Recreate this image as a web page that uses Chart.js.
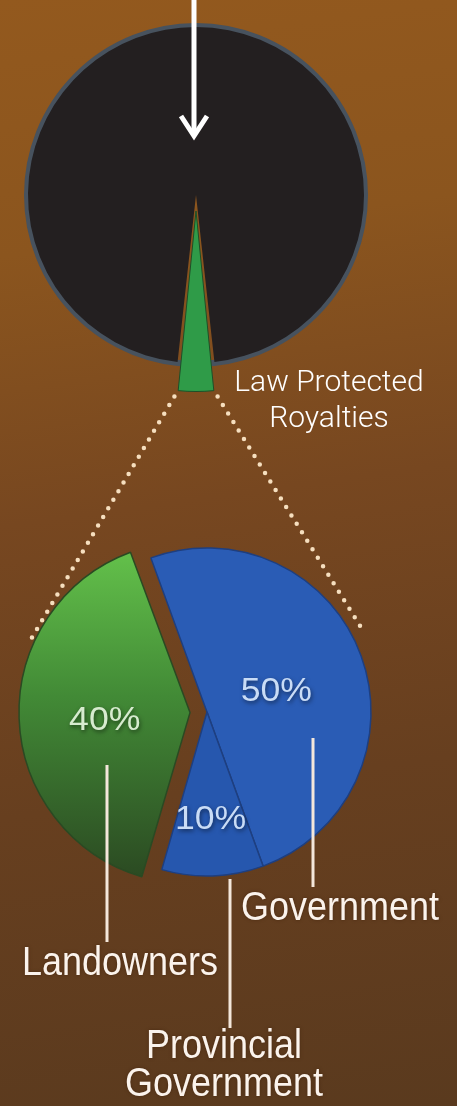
<!DOCTYPE html>
<html>
<head>
<meta charset="utf-8">
<script src="https://cdn.jsdelivr.net/npm/chart.js@4.4.0/dist/chart.umd.min.js"></script>
<style>
  html, body { margin: 0; padding: 0; }
  body {
    width: 457px; height: 1106px; overflow: hidden; position: relative;
    background: linear-gradient(172deg, #93591e 0%, #8b551e 22%, #774720 45%, #673f1f 70%, #5a3a1e 100%);
  }
  canvas { position: absolute; left: 0; top: 0; }
  .lbl { position: absolute; color: #fbf3ec; white-space: nowrap; z-index: 5; }
  .thin { font-family: Roboto, sans-serif; font-weight: 300; font-size: 30px; line-height: 36px; text-align: center; color: #fff; }
  .big {
    font-family: "Liberation Sans", Arial, sans-serif; font-size: 36px; line-height: 33px; text-align: center;
    transform: scaleY(1.15); transform-origin: top center;
    text-shadow: 0 0 3px rgba(60, 30, 10, 0.6);
  }
</style>
</head>
<body>
<canvas id="topPie" width="457" height="1106"></canvas>
<canvas id="splitPie" width="457" height="1106"></canvas>

<div class="lbl thin" style="left:219px; top:363px; width:220px;">Law Protected<br>Royalties</div>
<div class="lbl big" style="left:220px; top:887px; width:240px;">Government</div>
<div class="lbl big" style="left:0px; top:942px; width:240px;">Landowners</div>
<div class="lbl big" style="left:104px; top:1025px; width:240px;">Provincial<br>Government</div>

<script>
// top pie: share of revenue that is law protected royalties
const topLabels = ['Other', 'Law Protected Royalties'];
const topValues = [96.5, 3.5];

// bottom pie: how the royalties are split
const splitLabels = ['Government', 'Provincial Government', 'Landowners'];
const splitValues = [50, 10, 40];
const splitText = ['50%', '10%', '40%'];

const topTotal = topValues.reduce((a, b) => a + b, 0);

// chart.js v4 moves an exploded arc by offset/4 and grows it a bit
function arcShift(arc) {
  const off = (arc.options.offset || 0) / 4;
  const circ = arc.endAngle - arc.startAngle;
  const fix = 1 - Math.sin(Math.min(Math.PI, circ));
  return { move: off, grow: off * fix };
}

function arcPoint(arc, t, extra) {
  // point on the outer edge of an arc, t = 0..1 along the arc
  const a = arc.startAngle + (arc.endAngle - arc.startAngle) * t;
  const mid = (arc.startAngle + arc.endAngle) / 2;
  const s = arcShift(arc);
  const r = arc.outerRadius + s.grow + (extra || 0);
  return {
    x: arc.x + Math.cos(mid) * s.move + Math.cos(a) * r,
    y: arc.y + Math.sin(mid) * s.move + Math.sin(a) * r
  };
}

// rim of the dark pie + the arrow
const topDeco = {
  id: 'topDeco',
  beforeDatasetsDraw(chart) {
    const ctx = chart.ctx;
    const arc = chart.getDatasetMeta(0).data[0];
    ctx.save();
    ctx.strokeStyle = '#47525e';
    ctx.lineWidth = 6;
    ctx.beginPath();
    ctx.arc(arc.x, arc.y, arc.outerRadius + 1, 0, Math.PI * 2);
    ctx.stroke();
    ctx.restore();
  },
  afterDraw(chart) {
    const ctx = chart.ctx;
    const arc = chart.getDatasetMeta(0).data[0];
    const x = arc.x - 2;
    ctx.save();
    ctx.strokeStyle = '#ffffff';
    ctx.lineWidth = 5;
    ctx.beginPath();
    ctx.moveTo(x, 0);
    ctx.lineTo(x, 136);
    ctx.stroke();
    ctx.lineJoin = 'miter';
    ctx.beginPath();
    ctx.moveTo(x - 13, 116);
    ctx.lineTo(x, 136);
    ctx.lineTo(x + 13, 116);
    ctx.stroke();
    ctx.restore();
  }
};

const topChart = new Chart(document.getElementById('topPie'), {
  type: 'pie',
  data: {
    labels: topLabels,
    datasets: [{
      data: topValues,
      backgroundColor: ['#231f20', '#2f9b48'],
      borderColor: ['#231f20', '#1d4f28'],
      borderWidth: [0, 1],
      offset: [0, 64]
    }]
  },
  options: {
    responsive: false,
    animation: false,
    radius: 168,
    // put the middle of the small slice straight down
    rotation: -180 + topValues[1] / topTotal * 180,
    layout: { padding: { left: 0, right: 65, top: 0, bottom: 716 } },
    plugins: { legend: { display: false }, tooltip: { enabled: false } }
  },
  plugins: [topDeco]
});

const annotePlugin = {
  id: 'annote',
  afterDraw(chart) {
    const ctx = chart.ctx;
    const arcs = chart.getDatasetMeta(0).data;
    const wedge = topChart.getDatasetMeta(0).data[1];

    // dotted lines from the royalty wedge down to the split pie
    const w0 = arcPoint(wedge, 1, -2);
    const w1 = arcPoint(wedge, 0, -2);
    const l = arcPoint(arcs[2], 0.69, 4);
    const r = arcPoint(arcs[0], 0.46, 12);
    ctx.save();
    ctx.strokeStyle = '#f6dfbf';
    ctx.lineWidth = 4.5;
    ctx.lineCap = 'round';
    ctx.setLineDash([0, 10]);
    ctx.beginPath();
    ctx.moveTo(w0.x - 2, w0.y + 8);
    ctx.lineTo(l.x, l.y);
    ctx.moveTo(w1.x + 2, w1.y + 8);
    ctx.lineTo(r.x, r.y);
    ctx.stroke();
    ctx.restore();

    // leader lines to the labels
    ctx.save();
    ctx.strokeStyle = '#f4e7db';
    ctx.lineWidth = 3;
    ctx.beginPath();
    ctx.moveTo(107, 765); ctx.lineTo(107, 942);
    ctx.moveTo(313, 738); ctx.lineTo(313, 887);
    ctx.moveTo(230, 879); ctx.lineTo(230, 1028);
    ctx.stroke();
    ctx.restore();

    // percentage labels
    const radFactor = [0.45, 0.63, 0.52];
    const colors = ['#c9dcf6', '#c9dcf6', '#d7ebcf'];
    arcs.forEach((arc, i) => {
      const mid = (arc.startAngle + arc.endAngle) / 2;
      const s = arcShift(arc);
      const rr = arc.outerRadius * radFactor[i] + s.move;
      const x = arc.x + Math.cos(mid) * rr;
      const y = arc.y + Math.sin(mid) * rr + 5;
      ctx.save();
      ctx.font = '33px "Liberation Sans", Arial, sans-serif';
      ctx.textAlign = 'center';
      ctx.textBaseline = 'middle';
      ctx.shadowColor = 'rgba(0,0,0,0.5)';
      ctx.shadowBlur = 4;
      ctx.shadowOffsetX = 1;
      ctx.shadowOffsetY = 2;
      ctx.fillStyle = colors[i];
      ctx.translate(x, y);
      ctx.scale(1.08, 1);
      ctx.fillText(splitText[i], 0, 0);
      ctx.restore();
    });
  }
};

new Chart(document.getElementById('splitPie'), {
  type: 'pie',
  data: {
    labels: splitLabels,
    datasets: [{
      data: splitValues,
      backgroundColor: (c) => {
        const blues = ['#2a5cb5', '#2657ae'];
        if (c.dataIndex !== 2) return blues[c.dataIndex];
        const area = c.chart.chartArea;
        if (!area) return '#44903a';
        const cy = (area.top + area.bottom) / 2;
        const g = c.chart.ctx.createLinearGradient(0, cy - 165, 0, cy + 165);
        g.addColorStop(0, '#64c24b');
        g.addColorStop(0.45, '#428a36');
        g.addColorStop(1, '#2b4a22');
        return g;
      },
      borderColor: ['#1e3f80', '#1e3f80', '#2a4a23'],
      borderWidth: 1.5,
      offset: [0, 0, 68]
    }]
  },
  options: {
    responsive: false,
    animation: false,
    radius: 164,
    rotation: -20,
    layout: { padding: { left: 0, right: 43, top: 412, bottom: 94 } },
    plugins: { legend: { display: false }, tooltip: { enabled: false } }
  },
  plugins: [annotePlugin]
});
</script>
</body>
</html>
